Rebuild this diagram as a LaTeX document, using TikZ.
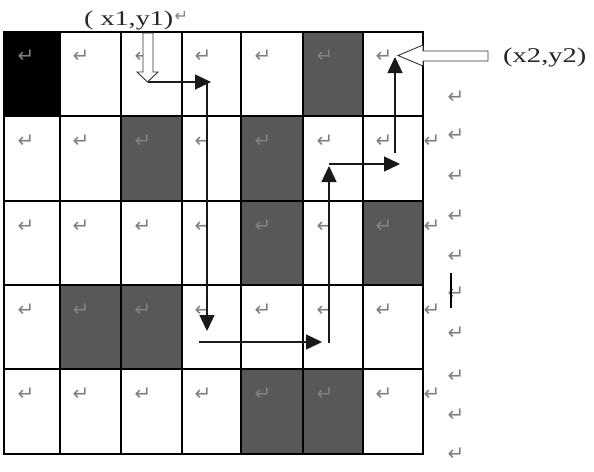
\documentclass[tikz,border=0pt]{standalone}
\usepackage{fontspec}
\usepackage{graphicx}
\setmainfont{Liberation Serif}
\newfontfamily\symfont{DejaVu Sans}
\usetikzlibrary{arrows.meta}
\definecolor{cellgray}{RGB}{88,88,88}
\definecolor{markgray}{RGB}{128,128,128}
\begin{document}
\begin{tikzpicture}[x=1pt,y=-1pt,
  gridline/.style={line width=1.4pt, black, line cap=rect},
  retmark/.style={inner sep=0pt, font=\symfont\fontsize{20}{20}\selectfont, text=markgray},
  conn/.style={line width=1.3pt, black!90, -{Triangle[length=16pt,width=15pt]}},
  hollow/.style={draw=black!80, line width=0.9pt, fill=white, line join=miter},
  lbl/.style={inner sep=0pt, anchor=base west, font=\fontsize{21}{21}\selectfont, text=black!85}]
\useasboundingbox (0,0) rectangle (594,471);
\fill[white] (0,0) rectangle (594,471);
% dark cells
\fill[black] (4,32) rectangle (60,116);
\fill[cellgray] (303,32) rectangle (363,116);
\fill[cellgray] (121,116) rectangle (182,201);
\fill[cellgray] (241,116) rectangle (303,201);
\fill[cellgray] (241,201) rectangle (303,285);
\fill[cellgray] (363,201) rectangle (423,285);
\fill[cellgray] (60,285) rectangle (182,369);
\fill[cellgray] (241,369) rectangle (363,454);
% grid
\foreach \x in {4,60,121,182,241,303,363,423} \draw[gridline] (\x,32) -- (\x,454);
\foreach \y in {32,116,201,285,369,454} \draw[gridline] (4,\y) -- (423,\y);
% return marks in cells
\foreach \x in {26,81,143,203,263,325,384} {
  \foreach \y in {56,141,226,310,394} {
    \node[retmark] (m-\x-\y) at (\x,\y) {↵};
  }
}
% return marks right of grid
\foreach \y in {141,226,310,394} \node[retmark] (r-\y) at (432,\y) {↵};
\foreach \y in {97,135,176,216,256,293,333,376,415,454} \node[retmark] (q-\y) at (456,\y) {↵};
% vertical bar
\draw[line width=2.5pt] (451,273) -- (451,308);
% path connectors
\coordinate (s1) at (147.5,82);
\coordinate (t1) at (211,82);
\coordinate (s2) at (207,82);
\coordinate (t2) at (207,331);
\coordinate (s3) at (199,342);
\coordinate (t3) at (322,342);
\coordinate (s4) at (329,343);
\coordinate (t4) at (329,166);
\coordinate (s5) at (329,164);
\coordinate (t5) at (400,164);
\coordinate (s6) at (395,153);
\coordinate (t6) at (395,57);
\draw[conn] (s1) -- (t1);
\draw[conn] (s2) -- (t2);
\draw[conn] (s3) -- (t3);
\draw[conn] (s4) -- (t4);
\draw[conn] (s5) -- (t5);
\draw[conn] (s6) -- (t6);
% hollow block arrows
\draw[hollow] (143,33) -- (153,33) -- (153,72) -- (158,72) -- (147.5,82) -- (137,72) -- (143,72) -- cycle;
\draw[hollow] (488,51) -- (423,51) -- (423,45) -- (398,55.5) -- (423,66) -- (423,61) -- (488,61) -- cycle;
% labels
\node[lbl] (p1) at (84,25) {\scalebox{1.34}[1]{( x1,y1)}};
\node[retmark, font=\symfont\fontsize{16}{16}\selectfont, anchor=west] (p1m) at ([xshift=1pt]p1.east |- 0,16) {↵};
\node[lbl] (p2) at (503,62) {\scalebox{1.36}[1]{(x2,y2)}};
\end{tikzpicture}
\end{document}
